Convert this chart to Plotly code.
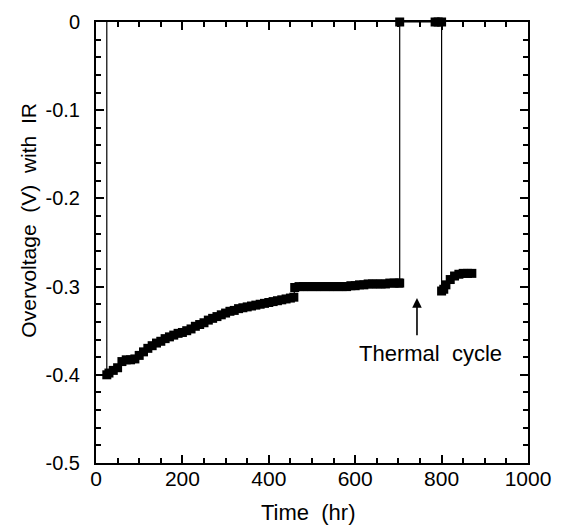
import plotly.graph_objects as go

# Time (hr) and overvoltage (V)
time_hr = [25, 25, 30, 40, 50, 60, 70, 80, 90, 100, 110, 120, 130, 140, 150,
           160, 170, 180, 190, 200, 210, 220, 230, 240, 250, 260, 270, 280, 290, 300,
           310, 320, 330, 340, 350, 360, 370, 380, 390, 400, 410, 420, 430, 440, 450,
           458, 460, 470, 480, 490, 500, 510, 520, 530, 540, 550, 560, 570, 580, 590,
           600, 610, 620, 630, 640, 650, 660, 670, 680, 690, 700, 703, 703, 785,
           792, 800, 800, 805, 810, 820, 830, 840, 850, 860, 870]
overvoltage = [0, -0.400, -0.398, -0.395, -0.392, -0.385, -0.383, -0.383, -0.382,
               -0.378, -0.374, -0.370, -0.367, -0.364, -0.362, -0.359, -0.357, -0.355,
               -0.353, -0.352, -0.350, -0.348, -0.345, -0.343, -0.341, -0.338, -0.336,
               -0.334, -0.332, -0.330, -0.328, -0.327, -0.325, -0.324, -0.323, -0.322,
               -0.321, -0.320, -0.319, -0.318, -0.317, -0.316, -0.315, -0.314, -0.313,
               -0.312, -0.301, -0.300, -0.300, -0.300, -0.300, -0.300, -0.300, -0.300,
               -0.300, -0.300, -0.300, -0.300, -0.300, -0.299, -0.299, -0.298, -0.298,
               -0.297, -0.297, -0.297, -0.297, -0.297, -0.296, -0.296, -0.296, -0.296,
               0, 0, 0, 0, -0.305, -0.303, -0.298, -0.292, -0.288, -0.286,
               -0.285, -0.285, -0.285]

x_ticks = [0, 200, 400, 600, 800, 1000]
y_ticks = [0, -0.1, -0.2, -0.3, -0.4, -0.5]
y_tick_labels = ["0", "-0.1", "-0.2", "-0.3", "-0.4", "-0.5"]

FONT = "Liberation Sans, Arial, sans-serif"

fig = go.Figure()
# connecting line (incl. the initial drop from 0)
fig.add_trace(go.Scatter(
    x=time_hr, y=overvoltage, mode="lines",
    line=dict(color="black", width=1.2),
    showlegend=False, cliponaxis=False, hoverinfo="skip",
))
# measured points (the first point only starts the drop line)
fig.add_trace(go.Scatter(
    x=time_hr[1:], y=overvoltage[1:], mode="markers",
    marker=dict(symbol="square", size=9, color="black", line=dict(width=0)),
    showlegend=False, cliponaxis=False,
))

axis_common = dict(
    showline=True, linecolor="black", linewidth=2, mirror="allticks",
    ticks="inside", ticklen=8, tickwidth=2, tickcolor="black",
    showgrid=False, zeroline=False, automargin=False,
)

fig.update_xaxes(
    range=[0, 1000], tickvals=x_ticks, ticktext=[str(v) for v in x_ticks],
    tickfont=dict(family=FONT, size=21, color="black"), ticklabelstandoff=-4,
    minor=dict(ticks="inside", dtick=50, ticklen=5, tickwidth=1.5, tickcolor="black", showgrid=False),
    **axis_common,
)
fig.update_yaxes(
    range=[-0.5, 0], tickvals=y_ticks, ticktext=y_tick_labels,
    tickfont=dict(family=FONT, size=20, color="black"), ticklabelstandoff=10,
    minor=dict(ticks="inside", dtick=0.02, ticklen=5, tickwidth=1.5, tickcolor="black", showgrid=False),
    **axis_common,
)

fig.add_annotation(
    x=743, y=-0.313, ax=743, ay=-0.357, xref="x", yref="y", axref="x", ayref="y",
    showarrow=True, arrowhead=2, arrowsize=1.2, arrowwidth=1.6, arrowcolor="black", text="",
)
fig.add_annotation(
    x=775, y=-0.376, xref="x", yref="y", text="Thermal  cycle", showarrow=False,
    font=dict(family=FONT, size=22, color="black"), xanchor="center", yanchor="middle",
)
fig.add_annotation(
    x=0.493, y=-0.113, xref="paper", yref="paper", text="Time  (hr)", showarrow=False,
    font=dict(family=FONT, size=22, color="black"), xanchor="center", yanchor="middle",
)
fig.add_annotation(
    x=-0.157, y=0.55, xref="paper", yref="paper", text="Overvoltage  (V)  with  IR",
    textangle=-90, showarrow=False,
    font=dict(family=FONT, size=21, color="black"), xanchor="center", yanchor="middle",
)

# the page body adds an 8px offset, so the figure is sized/margined to compensate
fig.update_layout(
    width=554, height=519,
    margin=dict(l=88, r=34, t=14, b=64),
    plot_bgcolor="white", paper_bgcolor="white",
)

fig.write_html("out.html")
